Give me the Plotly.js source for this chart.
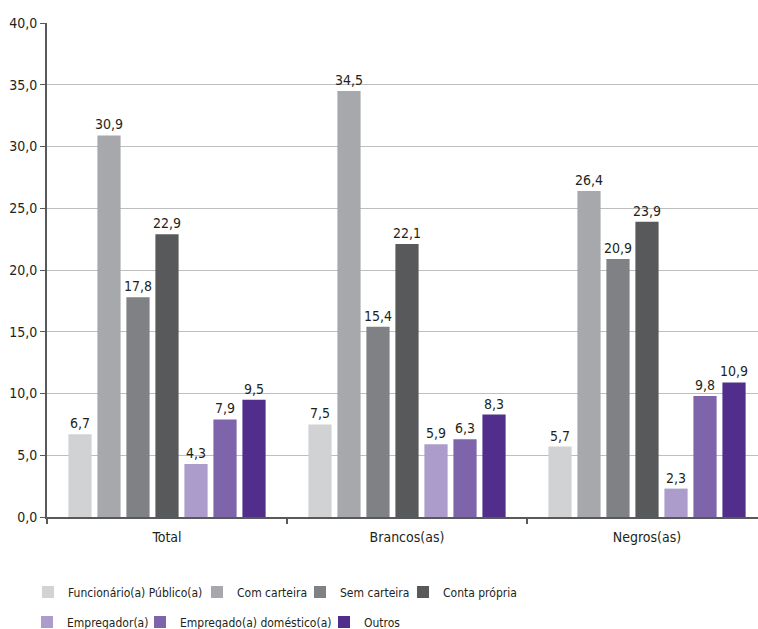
<!DOCTYPE html>
<html>
<head>
<meta charset="utf-8">
<script src="https://cdn.plot.ly/plotly-3.0.1.min.js"></script>
<style>
html,body{margin:0;padding:0;overflow:hidden;background:#fff;}
#chart{width:768px;height:629px;}
</style>
</head>
<body>
<div id="chart"></div>
<script>
const categories = ["Total", "Brancos(as)", "Negros(as)"];
const seriesNames = ["Funcionário(a) Público(a)", "Com carteira", "Sem carteira", "Conta própria", "Empregador(a)", "Empregado(a) doméstico(a)", "Outros"];
const funcionario = [6.7, 7.5, 5.7];
const comCarteira = [30.9, 34.5, 26.4];
const semCarteira = [17.8, 15.4, 20.9];
const contaPropria = [22.9, 22.1, 23.9];
const empregador = [4.3, 5.9, 2.3];
const domestico = [7.9, 6.3, 9.8];
const outros = [9.5, 8.3, 10.9];
const yTicks = [0, 5, 10, 15, 20, 25, 30, 35, 40];

const seriesValues = [funcionario, comCarteira, semCarteira, contaPropria, empregador, domestico, outros];
const colors = ["#d1d2d4", "#a7a8ab", "#808184", "#58595b", "#ab9ccb", "#7e64aa", "#522e8c"];
const fontFam = '"DejaVu Sans Condensed", "Liberation Sans Narrow", Arial, sans-serif';
const legendNames = ['legend', 'legend2', 'legend3', 'legend4', 'legend5', 'legend6', 'legend7'];
// legend left positions (px) and row centres (px)
const legendX = [28, 197, 300, 403, 27, 140, 324];
const legendY = [592, 592, 592, 592, 622, 622, 622];

const traces = seriesValues.map((vals, i) => ({
  type: 'bar',
  name: seriesNames[i],
  x: categories,
  y: vals,
  marker: {color: colors[i]},
  texttemplate: '%{y:.1f}',
  textposition: 'outside',
  constraintext: 'none',
  cliponaxis: false,
  textfont: {family: fontFam, size: 14, color: '#231f20'},
  legend: legendNames[i],
  showlegend: true,
  hoverinfo: 'skip'
}));

const W = 768, H = 629;
const layout = {
  width: W,
  height: H,
  showlegend: true,
  margin: {l: 47, r: 1, t: 23, b: 112},
  separators: ',.',
  paper_bgcolor: '#fff',
  plot_bgcolor: '#fff',
  barmode: 'group',
  bargap: 0.154,
  bargroupgap: 0.2,
  font: {family: fontFam, size: 14, color: '#231f20'},
  xaxis: {
    type: 'category',
    tickson: 'boundaries',
    ticks: 'outside',
    ticklen: 5,
    tickcolor: '#58595b',
    tickwidth: 1.5,
    ticklabelstandoff: 6,
    showline: true,
    linecolor: '#58595b',
    linewidth: 2,
    showgrid: false,
    tickfont: {family: fontFam, size: 14, color: '#231f20'}
  },
  yaxis: {
    range: [0, 40],
    tickvals: yTicks,
    tickformat: '.1f',
    ticks: 'outside',
    ticklen: 5,
    tickcolor: '#58595b',
    showline: true,
    linecolor: '#58595b',
    linewidth: 2,
    showgrid: true,
    gridcolor: '#bcbec0',
    gridwidth: 1,
    zeroline: false,
    tickfont: {family: fontFam, size: 14, color: '#231f20'}
  }
};
legendNames.forEach((ln, i) => {
  layout[ln] = {
    visible: true,
    orientation: 'h',
    xref: 'container', yref: 'container',
    x: legendX[i] / W, y: 1 - legendY[i] / H,
    xanchor: 'left', yanchor: 'middle',
    font: {family: fontFam, size: 12, color: '#231f20'},
    bgcolor: 'rgba(0,0,0,0)'
  };
});

Plotly.newPlot('chart', traces, layout, {displayModeBar: false, staticPlot: true});
</script>
</body>
</html>
